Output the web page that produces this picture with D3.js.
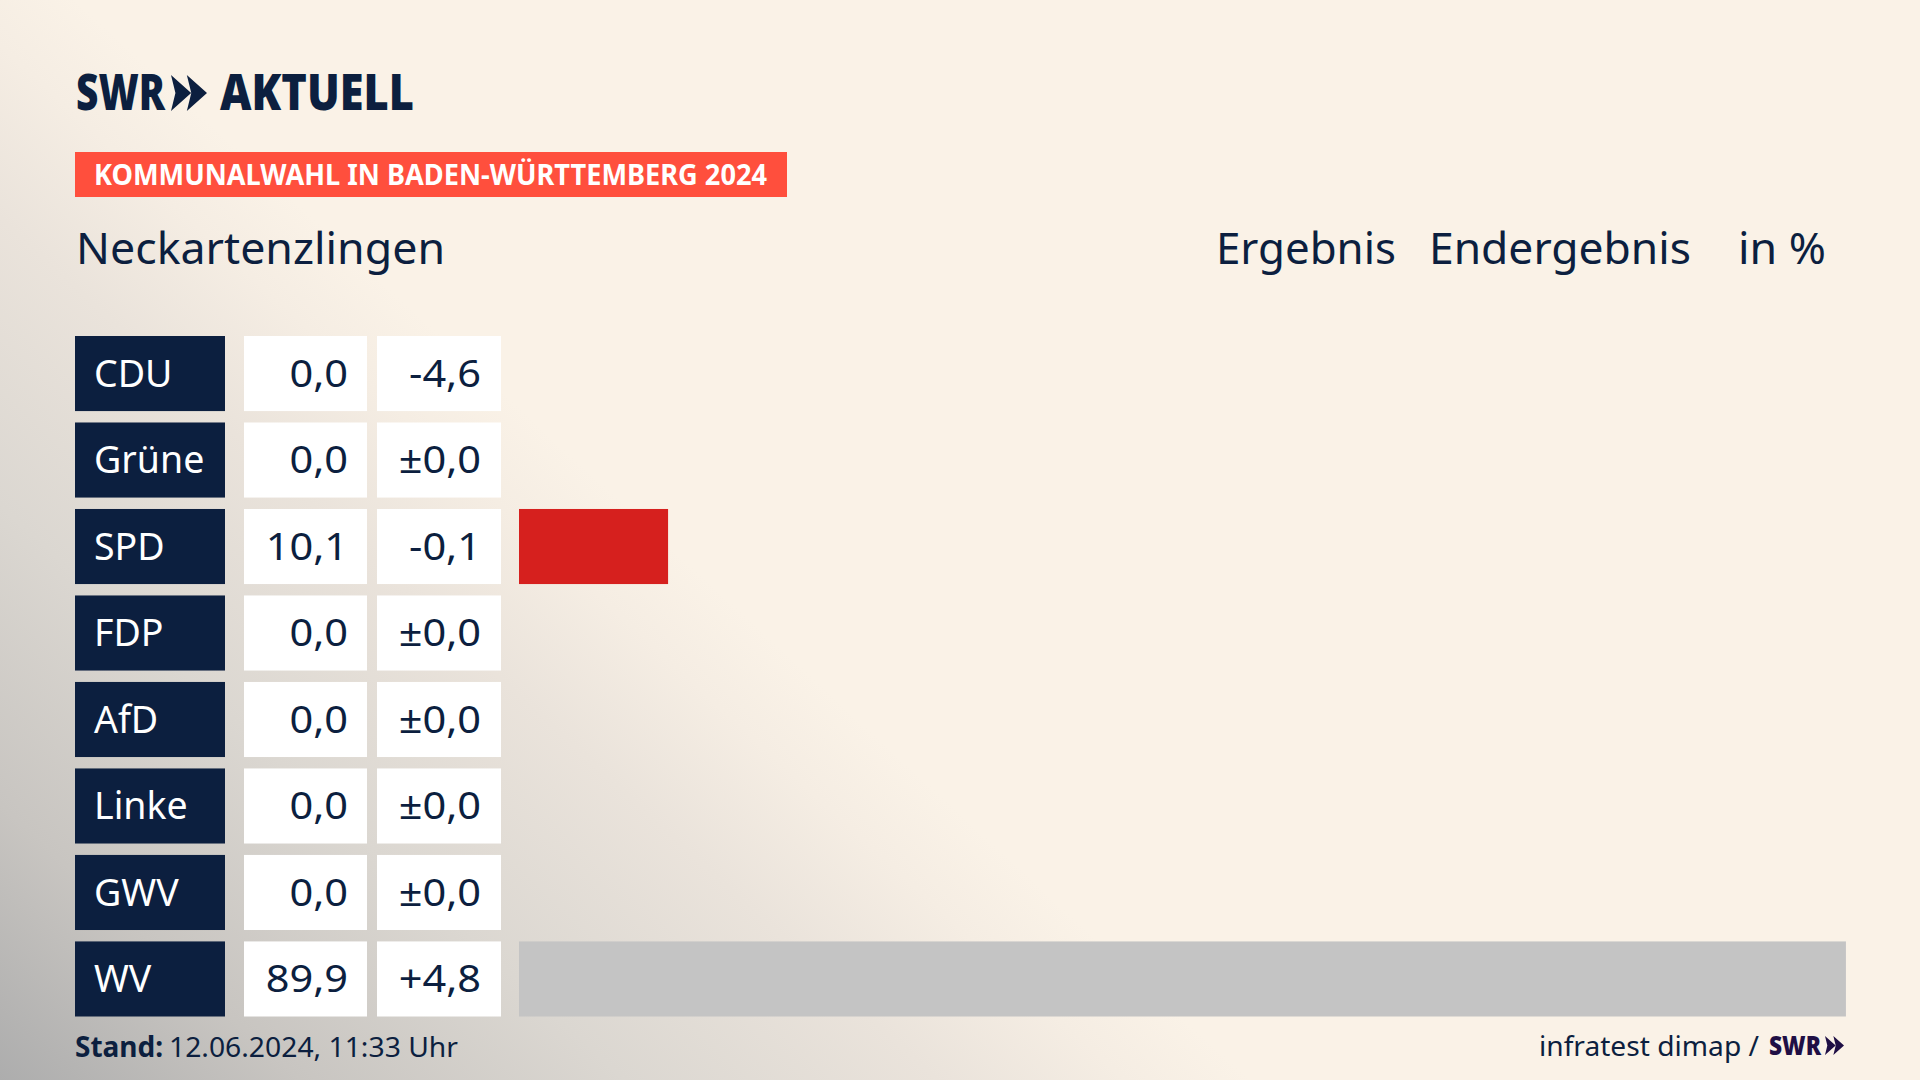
<!DOCTYPE html>
<html>
<head>
<meta charset="utf-8">
<script src="https://cdn.jsdelivr.net/npm/d3@7"></script>
<style>
html, body { margin: 0; padding: 0; background: #faf2e7; }
svg { display: block; }
text { font-family: "Noto Sans", sans-serif; fill: #0c1f3f; }
</style>
</head>
<body>
<div id="chart"></div>
<script>
// election result data
const parties = ["CDU", "Grüne", "SPD", "FDP", "AfD", "Linke", "GWV", "WV"];
const results = [0.0, 0.0, 10.1, 0.0, 0.0, 0.0, 0.0, 89.9];
const changes = ["-4,6", "±0,0", "-0,1", "±0,0", "±0,0", "±0,0", "±0,0", "+4,8"];
const barColors = ["#000000", "#46962b", "#d6201e", "#ffed00", "#009ee0", "#be3075", "#c4c4c4", "#c4c4c4"];

const svgWidth = 1920;
const svgHeight = 1080;
const navy = "#0c1f3f";

const svg = d3.select("#chart")
    .append("svg")
    .attr("width", svgWidth)
    .attr("height", svgHeight);

// background, linear fade out of the lower left corner
const defs = svg.append("defs");
const fade = defs.append("linearGradient")
    .attr("id", "fade")
    .attr("gradientUnits", "userSpaceOnUse")
    .attr("x1", 0).attr("y1", 1080)
    .attr("x2", 573).attr("y2", 457);
[[0, "#adadad"], [0.24, "#c8c5c1"], [0.5, "#dbd7d1"], [0.75, "#eae3db"], [0.9, "#f5ede3"], [1, "#faf2e7"]]
    .forEach(s => fade.append("stop").attr("offset", s[0]).attr("stop-color", s[1]));

svg.append("rect").attr("width", svgWidth).attr("height", svgHeight).attr("fill", "url(#fade)");

// logo
function chevrons(g, x, y, h, color) {
    const w = h * 0.56;
    [0, h * 0.44].forEach(dx => {
        g.append("path")
            .attr("d", `M${x + dx},${y} L${x + dx + w},${y + h / 2} L${x + dx},${y + h} L${x + dx + w * 0.22},${y + h / 2} Z`)
            .attr("fill", color);
    });
}

const logo = svg.append("g");
logo.append("text")
    .attr("x", 76).attr("y", 110)
    .attr("textLength", 89).attr("lengthAdjust", "spacingAndGlyphs")
    .style("font-size", "49px").style("font-weight", 900)
    .text("SWR");
chevrons(logo, 171, 75, 36, navy);
logo.append("text")
    .attr("x", 220).attr("y", 110)
    .attr("textLength", 194).attr("lengthAdjust", "spacingAndGlyphs")
    .style("font-size", "49px").style("font-weight", 900)
    .text("AKTUELL");

// red tag
svg.append("rect")
    .attr("x", 75).attr("y", 152).attr("width", 712).attr("height", 45)
    .attr("fill", "#ff4f3d");
svg.append("text")
    .attr("x", 94).attr("y", 185)
    .attr("textLength", 673).attr("lengthAdjust", "spacingAndGlyphs")
    .style("font-size", "29px").style("font-weight", 700).style("fill", "#ffffff")
    .text("KOMMUNALWAHL IN BADEN-WÜRTTEMBERG 2024");

// heading row
const heading = [
    { label: "Neckartenzlingen", x: 76, w: 369 },
    { label: "Ergebnis", x: 1216, w: 180 },
    { label: "Endergebnis", x: 1429, w: 262 },
    { label: "in %", x: 1738, w: 88 }
];
svg.selectAll(".heading")
    .data(heading)
    .enter()
    .append("text")
    .attr("class", "heading")
    .attr("x", d => d.x)
    .attr("y", 264)
    .attr("textLength", d => d.w)
    .attr("lengthAdjust", "spacingAndGlyphs")
    .style("font-size", "44px")
    .text(d => d.label);

// scales
const yScale = d3.scaleBand()
    .domain(parties)
    .range([336, 1016.5])
    .paddingInner(0.132)
    .paddingOuter(0);
const xScale = d3.scaleLinear()
    .domain([0, 100])
    .range([519, 1995]);

const rows = svg.selectAll(".row")
    .data(parties)
    .enter()
    .append("g")
    .attr("class", "row")
    .attr("transform", d => `translate(0, ${yScale(d)})`);

const rowH = yScale.bandwidth();

rows.append("rect")
    .attr("x", 75).attr("width", 150).attr("height", rowH)
    .attr("fill", navy);
rows.append("rect")
    .attr("x", 244).attr("width", 123).attr("height", rowH)
    .attr("fill", "#ffffff");
rows.append("rect")
    .attr("x", 377).attr("width", 124).attr("height", rowH)
    .attr("fill", "#ffffff");
rows.append("rect")
    .attr("x", xScale(0))
    .attr("width", (d, i) => xScale(results[i]) - xScale(0))
    .attr("height", rowH)
    .attr("fill", (d, i) => barColors[i]);

rows.append("text")
    .attr("x", 94).attr("y", 51)
    .style("font-size", "37.5px").style("fill", "#ffffff")
    .text(d => d);
rows.append("text")
    .attr("transform", "translate(348, 51) scale(1.065, 1)")
    .attr("text-anchor", "end")
    .style("font-size", "39px")
    .text((d, i) => d3.format(".1f")(results[i]).replace(".", ","));
rows.append("text")
    .attr("transform", "translate(481, 51) scale(1.065, 1)")
    .attr("text-anchor", "end")
    .style("font-size", "39px")
    .text((d, i) => changes[i]);

// footer
const stand = svg.append("text")
    .attr("x", 75).attr("y", 1057)
    .style("font-size", "28px");
stand.append("tspan").style("font-weight", 700).text("Stand:");
svg.append("text")
    .attr("x", 169).attr("y", 1057)
    .attr("textLength", 289).attr("lengthAdjust", "spacingAndGlyphs")
    .style("font-size", "28px")
    .text("12.06.2024, 11:33 Uhr");

svg.append("text")
    .attr("x", 1539).attr("y", 1056)
    .attr("textLength", 220).attr("lengthAdjust", "spacingAndGlyphs")
    .style("font-size", "28px")
    .text("infratest dimap /");

const smallLogo = svg.append("g");
smallLogo.append("text")
    .attr("x", 1769).attr("y", 1055)
    .attr("textLength", 52).attr("lengthAdjust", "spacingAndGlyphs")
    .style("font-size", "27px").style("font-weight", 900).style("fill", "#1f0f45")
    .text("SWR");
chevrons(smallLogo, 1825, 1036, 19, "#1f0f45");
</script>
</body>
</html>
